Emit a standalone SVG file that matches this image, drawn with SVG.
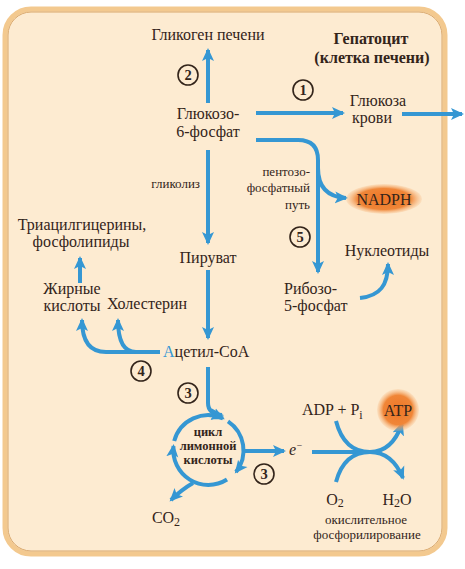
<svg xmlns="http://www.w3.org/2000/svg" width="465" height="569" viewBox="0 0 465 569">
<defs>
<style>
.t{font-family:"Liberation Serif","DejaVu Serif Condensed","DejaVu Serif",serif;fill:#33241a;font-size:16px}
.s{font-size:13px}
.b{font-weight:bold}
.c{text-anchor:middle}
.r{text-anchor:end}
.n{font-size:14.5px;font-weight:bold;text-anchor:middle}
.cy{font-size:12.5px;font-weight:bold;text-anchor:middle}
.ln{fill:none;stroke:#3597d3;stroke-width:4}
.num{fill:none;stroke:#33241a;stroke-width:1.6}
</style>
<marker id="ah" markerUnits="userSpaceOnUse" markerWidth="14" markerHeight="14" refX="11" refY="7" orient="auto">
<path d="M0,1 L13,7 L0,13 L3,7 z" fill="#3597d3"/>
</marker>
<radialGradient id="og" cx="0.5" cy="0.5" r="0.5">
<stop offset="0" stop-color="#ee7526"/>
<stop offset="0.7" stop-color="#f08638"/>
<stop offset="1" stop-color="#f6b57a" stop-opacity="0.2"/>
</radialGradient>
</defs>
<rect x="0" y="0" width="465" height="569" fill="#ffffff"/>
<rect x="5" y="9" width="440" height="545" rx="26" fill="#fdebd1" stroke="#f3c98f" stroke-width="5"/>
<rect x="8" y="12" width="434" height="539" rx="23" fill="none" stroke="#d9a76b" stroke-width="1"/>

<g id="title">
<text class="t b c" x="371" y="44">Гепатоцит</text>
<text class="t b c" x="372" y="63">(клетка печени)</text>
</g>

<g id="connectors">
<path class="ln" d="M208,103 L208,50" marker-end="url(#ah)"/>
<path class="ln" d="M256,113 L343,113" marker-end="url(#ah)"/>
<path class="ln" d="M402,114 L462,114" marker-end="url(#ah)"/>
<path class="ln" d="M256,140 L298,140 Q318,140 318,160 L318,272" marker-end="url(#ah)"/>
<path class="ln" d="M318,168 C318,188 328,197 346,198" marker-end="url(#ah)"/>
<path class="ln" d="M360,298 C380,296 388,285 388,264" marker-end="url(#ah)"/>
<path class="ln" d="M208,150 L208,243" marker-end="url(#ah)"/>
<path class="ln" d="M208,270 L208,338" marker-end="url(#ah)"/>
<path class="ln" d="M160,352 L106,352 Q82,352 82,320" marker-end="url(#ah)"/>
<path class="ln" d="M136,352 Q118,352 118,320" marker-end="url(#ah)"/>
<path class="ln" d="M80,283 L80,258" marker-end="url(#ah)"/>
<path class="ln" d="M208,367 L208,403 Q208,414 222,415" marker-end="url(#ah)"/>
<path class="ln" d="M174.2,441 A35,35 0 0 1 223,418.5" marker-end="url(#ah)"/>
<path class="ln" d="M228,421.3 A35,35 0 0 1 236,472" marker-end="url(#ah)"/>
<path class="ln" d="M227,479.5 A35,35 0 0 1 173.5,446" marker-end="url(#ah)"/>
<path class="ln" d="M193,483 Q181,490 171,500" marker-end="url(#ah)"/>
<path class="ln" d="M243,451 L284,451" marker-end="url(#ah)"/>
<path class="ln" d="M312,452 L370,452"/>
<path class="ln" d="M336,421 Q344,452 370,452 Q392,452 402,424" marker-end="url(#ah)"/>
<path class="ln" d="M336,482 Q344,452 370,452 Q392,452 403,478" marker-end="url(#ah)"/>
</g>

<g id="glycogen"><text class="t c" x="208" y="40">Гликоген печени</text></g>
<g id="g6p">
<text class="t c" x="208" y="119">Глюкозо-</text>
<text class="t c" x="208" y="137">6-фосфат</text>
</g>
<g id="n2"><circle class="num" cx="188" cy="75" r="10"/><text class="t n" x="188" y="80">2</text></g>
<g id="n1"><circle class="num" cx="303" cy="90" r="10"/><text class="t n" x="303" y="95">1</text></g>
<g id="blood">
<text class="t c" x="378" y="106">Глюкоза</text>
<text class="t c" x="372" y="123">крови</text>
</g>
<g id="pentose">
<text class="t s r" x="310" y="176">пентозо-</text>
<text class="t s r" x="310" y="192">фосфатный</text>
<text class="t s r" x="310" y="209">путь</text>
</g>
<g id="nadph">
<ellipse cx="384" cy="199" rx="38" ry="15" fill="url(#og)"/>
<text class="t c" x="384" y="205" fill="#4a2210">NADPH</text>
</g>
<g id="n5"><circle class="num" cx="300" cy="237" r="10"/><text class="t n" x="300" y="242">5</text></g>
<g id="nucleotides"><text class="t c" x="387" y="256">Нуклеотиды</text></g>
<g id="ribose">
<text class="t" x="284" y="294">Рибозо-</text>
<text class="t" x="284" y="311">5-фосфат</text>
</g>
<g id="glycolysis"><text class="t s r" x="200" y="188">гликолиз</text></g>
<g id="pyruvate"><text class="t c" x="208" y="263">Пируват</text></g>
<g id="tag">
<text class="t c" x="82" y="230">Триацилгицерины,</text>
<text class="t c" x="81" y="247">фосфолипиды</text>
</g>
<g id="fatty">
<text class="t c" x="72" y="294">Жирные</text>
<text class="t c" x="72" y="311">кислоты</text>
</g>
<g id="cholesterol"><text class="t" x="107" y="309">Холестерин</text></g>
<g id="acetyl"><text class="t" x="163" y="357"><tspan fill="#3597d3">А</tspan>цетил-CoA</text></g>
<g id="n4"><circle class="num" cx="141" cy="371" r="10"/><text class="t n" x="141" y="376">4</text></g>
<g id="n3a"><circle class="num" cx="188" cy="393" r="10"/><text class="t n" x="188" y="398">3</text></g>
<g id="cycle">
<text class="t cy" x="208" y="436">цикл</text>
<text class="t cy" x="208" y="450">лимонной</text>
<text class="t cy" x="208" y="464">кислоты</text>
</g>
<g id="n3b"><circle class="num" cx="264" cy="474" r="10"/><text class="t n" x="264" y="479">3</text></g>
<g id="co2"><text class="t c" x="166" y="523">CO<tspan font-size="12" dy="3">2</tspan></text></g>
<g id="electron"><text class="t" x="289" y="455" font-style="italic">e<tspan font-size="10" dy="-6">−</tspan></text></g>
<g id="adp"><text class="t" x="302" y="415">ADP + P<tspan font-size="12" dy="4">i</tspan></text></g>
<g id="atp">
<circle cx="398" cy="410" r="21" fill="url(#og)"/>
<text class="t c" x="398" y="416" fill="#4a2210">ATP</text>
</g>
<g id="o2"><text class="t c" x="335" y="505">O<tspan font-size="12" dy="2">2</tspan></text></g>
<g id="h2o"><text class="t c" x="397" y="505">H<tspan font-size="12" dy="2">2</tspan><tspan dy="-2">O</tspan></text></g>
<g id="oxphos">
<text class="t s c" x="366" y="524">окислительное</text>
<text class="t s c" x="367" y="539">фосфорилирование</text>
</g>
</svg>
